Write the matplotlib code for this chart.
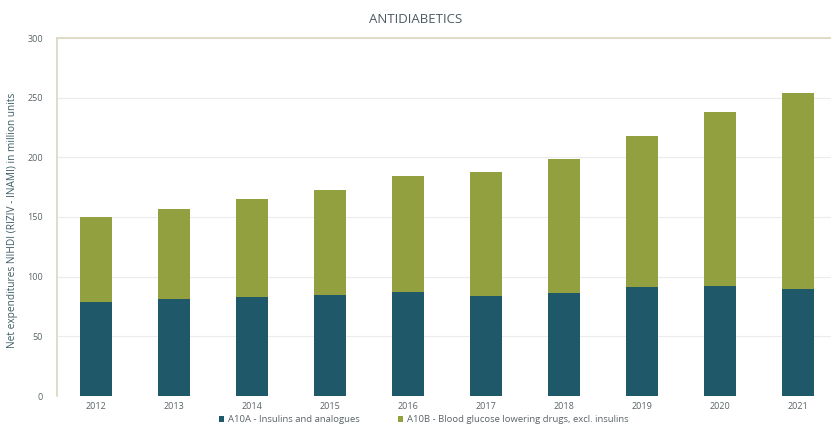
import matplotlib.pyplot as plt
import numpy as np

plt.rcParams['font.family'] = 'Open Sans'

# Net expenditures per year (million units)
years = ['2012', '2013', '2014', '2015', '2016', '2017', '2018', '2019', '2020', '2021']
insulins = [79, 81, 83, 85, 87, 84, 86, 91, 92, 90]
total = [150, 157, 165, 173, 184, 188, 199, 218, 238, 254]
other_drugs = [t - i for t, i in zip(total, insulins)]

teal = '#1f5868'
olive = '#93a040'
axis_col = '#d9d7bd'
text_col = '#5a6468'

fig = plt.figure(figsize=(8.31, 4.25), dpi=100)
ax = fig.add_axes([57 / 831, 29 / 425, 780 / 831, 358 / 425])

x = np.arange(len(years))
ax.bar(x, insulins, width=0.4, color=teal, zorder=3,
       label='A10A - Insulins and analogues')
ax.bar(x, other_drugs, width=0.4, bottom=insulins, color=olive, zorder=3,
       label='A10B - Blood glucose lowering drugs, excl. insulins')

ax.set_xlim(-0.5, len(years) - 0.5)
ax.set_ylim(0, 300)
ax.set_yticks(range(0, 301, 50))
ax.set_xticks(x)
ax.set_xticklabels(years)
ax.tick_params(axis='both', length=0, labelsize=6.5, colors=text_col)
ax.tick_params(axis='y', pad=10)
ax.tick_params(axis='x', pad=4)

ax.grid(axis='y', color='#ececec', linewidth=0.8, zorder=0)
for side in ['right', 'bottom']:
    ax.spines[side].set_visible(False)
for side in ['left', 'top']:
    ax.spines[side].set_color(axis_col)
    ax.spines[side].set_linewidth(1.2)

ax.set_ylabel('Net expenditures NIHDI (RIZIV - INAMI) in million units',
              fontsize=7.3, color='#3d5a63')
ax.yaxis.set_label_coords(-0.05, 0.49)

fig.text(0.5, 0.953, 'ANTIDIABETICS', ha='center', va='center',
         fontsize=9.5, color='#4b5b61')

ax.legend(loc='upper center', bbox_to_anchor=(0.47, -0.038), ncol=2,
          frameon=False, fontsize=6.8, labelcolor=text_col,
          handlelength=0.6, handleheight=0.6, columnspacing=4, handletextpad=0.4,
          borderpad=0.1)

fig.savefig('out.png', dpi=100)
